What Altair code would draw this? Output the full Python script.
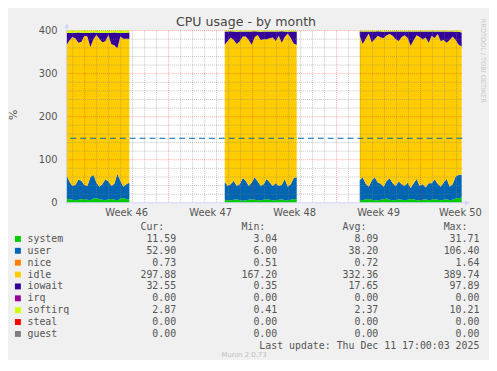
import altair as alt
import numpy as np
import pandas as pd

# ---------------- data ----------------
# time axis: days since the start of the 33-day window; three segments with data
SEG_START = [0.0, 13.2, 24.45]
SEG_COUNT = [22, 25, 35]
STEP = 0.25

system = [10, 8, 7, 6, 7, 8, 9, 7, 6, 10, 11, 8, 7, 6, 8, 9, 7, 6, 10, 11, 8, 9,
          7, 6, 6, 7, 8, 6, 5, 6, 7, 8, 7, 6, 6, 7, 9, 7, 6, 6, 7, 8, 6, 6, 7, 9, 8,
          7, 6, 8, 9, 7, 6, 6, 7, 8, 10, 7, 6, 6, 8, 7, 6, 7, 9, 8, 6, 6, 7, 8, 6, 7,
          9, 7, 6, 7, 8, 6, 7, 10, 11, 11.59]
user = [55.3, 41.3, 32.3, 35.3, 46.3, 43.3, 32.3, 32.3, 53.3, 55.3, 36.3, 29.3, 36.3,
        48.3, 41.3, 30.3, 37.3, 61.3, 41.3, 26.3, 35.3, 37.3,
        41.3, 33.3, 37.3, 44.3, 31.3, 37.3, 52.3, 45.3, 32.3, 39.3, 52.3, 43.3, 33.3,
        36.3, 46.3, 40.3, 33.3, 39.3, 32.3, 33.3, 49.3, 31.3, 36.3, 48.3, 51.3,
        45.3, 53.3, 36.3, 28.3, 44.3, 53.3, 41.3, 37.3, 29.3, 41.3, 49.3, 39.3, 33.3,
        41.3, 36.3, 33.3, 39.3, 25.3, 37.3, 49.3, 33.3, 36.3, 27.3, 39.3, 38.3, 45.3,
        37.3, 31.3, 40.3, 47.3, 31.3, 36.3, 51.3, 53.3, 52.90]
nice = [0.72, 0.70, 0.68, 0.71, 0.74, 0.70, 0.69, 0.73, 0.75, 0.71, 0.68, 0.70, 0.72,
        0.74, 0.69, 0.71, 0.73, 0.76, 0.70, 0.68, 0.71, 0.72,
        0.70, 0.69, 0.71, 0.73, 0.68, 0.70, 0.74, 0.72, 0.69, 0.71, 0.75, 0.72, 0.70,
        0.68, 0.73, 0.71, 0.69, 0.70, 0.72, 0.74, 0.71, 0.68, 0.70, 0.73, 0.72,
        0.71, 0.73, 0.70, 0.68, 0.72, 0.74, 0.71, 0.69, 0.70, 0.72, 0.75, 0.71, 0.69,
        0.70, 0.72, 0.68, 0.71, 0.70, 0.73, 0.74, 0.70, 0.69, 0.71, 0.72, 0.70, 0.73,
        0.71, 0.68, 0.70, 0.72, 0.69, 0.71, 0.74, 0.72, 0.73]
idle = [300, 327, 345, 340, 318, 322, 346, 346, 302, 314, 342, 343, 329, 320, 340,
        328, 321, 291, 334, 343, 337, 334,
        318, 336, 340, 326, 329, 331, 328, 334, 338, 319, 325, 340, 338, 336, 324,
        334, 344, 330, 348, 330, 329, 355, 339, 312, 307,
        335, 309, 336, 355, 321, 320, 340, 339, 345, 337, 335, 342, 340, 326, 341,
        349, 336, 330, 332, 333, 345, 336, 348, 326, 342, 328, 347, 338, 330, 316,
        340, 342, 316, 302, 297.88]
iowait = [29.0, 17.7, 9.5, 12.9, 23.3, 21.0, 6.6, 8.4, 33.1, 15.5, 4.9, 13.7, 22.2,
          20.0, 4.5, 26.8, 29.4, 36.1, 8.7, 13.9, 14.0, 14.3,
          30.8, 22.0, 14.2, 19.9, 28.6, 23.0, 12.1, 11.8, 19.7, 31.0, 13.2, 7.9, 19.5,
          17.8, 18.0, 16.1, 13.9, 21.7, 10.0, 26.2, 12.8, 4.6, 14.9, 28.0, 30.8,
          10.0, 28.8, 17.1, 4.9, 24.7, 18.0, 10.2, 13.9, 14.6, 8.8, 6.0, 10.1, 17.7,
          21.9, 13.0, 8.8, 14.6, 32.9, 20.1, 9.0, 12.7, 17.8, 14.0, 25.9, 10.1, 14.8,
          5.6, 21.9, 20.0, 25.7, 19.8, 12.0, 19.5, 30.3, 32.55]
softirq = [5.0, 5.3, 5.5, 5.1, 4.7, 5.0, 5.4, 5.6, 4.9, 4.5, 5.1, 5.3, 4.8, 5.0, 5.5,
           5.2, 4.6, 4.9, 5.3, 5.1, 5.0, 4.7,
           2.2, 2.0, 1.8, 2.1, 2.4, 2.0, 1.9, 2.2, 2.3, 2.0, 1.8, 2.1, 2.5, 2.2, 2.0,
           1.9, 2.1, 2.3, 2.0, 1.8, 2.2, 2.4, 2.1, 2.0, 2.2,
           2.0, 2.2, 1.9, 2.1, 2.3, 2.0, 1.8, 2.1, 2.4, 2.2, 2.0, 1.9, 2.3, 2.1, 2.0,
           2.2, 2.4, 2.1, 1.9, 2.0, 2.3, 2.2, 2.0, 2.1, 1.9, 2.2, 2.4, 2.1, 2.0, 2.3,
           2.2, 2.0, 2.5, 2.7, 2.87]

series_names = ["system", "user", "nice", "idle", "iowait", "irq", "softirq", "steal", "guest"]
series_colors = ["#00CC00", "#0066B3", "#FF8000", "#FFCC00", "#330099",
                 "#990099", "#CCFF00", "#FF0000", "#808080"]
cur_vals = [11.59, 52.90, 0.73, 297.88, 32.55, 0.00, 2.87, 0.00, 0.00]
min_vals = [3.04, 6.00, 0.51, 167.20, 0.35, 0.00, 0.41, 0.00, 0.00]
avg_vals = [8.09, 38.20, 0.72, 332.36, 17.65, 0.00, 2.37, 0.00, 0.00]
max_vals = [31.71, 106.40, 1.64, 389.74, 97.89, 0.00, 10.21, 0.00, 0.00]

week_labels = ["Week 46", "Week 47", "Week 48", "Week 49", "Week 50"]
week_label_pos = [5.02, 12.02, 19.02, 26.02, 32.85]
monday_pos = [1.52, 8.52, 15.52, 22.52, 29.52]
day_grid = [round(0.52 + k, 2) for k in range(33)]
y_ticks = [0, 100, 200, 300, 400]
y_minor = [v for v in range(20, 400, 20) if v % 100 != 0]
y_major = [100, 200, 300, 400]
warn_level = [150]

title_text = "CPU usage - by month"
y_title = "%"
watermark = "RRDTOOL / TOBI OETIKER"
last_update = "Last update: Thu Dec 11 17:00:03 2025"
version = "Munin 2.0.73"

# ---------------- build tables ----------------
t = np.concatenate([s + STEP * np.arange(n) for s, n in zip(SEG_START, SEG_COUNT)])
seg = np.repeat([1, 2, 3], SEG_COUNT)
stack_series = [("system", system), ("user", user), ("nice", nice),
                ("idle", idle), ("iowait", iowait), ("softirq", softirq)]
rows = []
for order, (name, vals) in enumerate(stack_series):
    assert len(vals) == len(t), name
    for ti, si, v in zip(t, seg, vals):
        rows.append(dict(t=round(float(ti), 3), seg=int(si), series=name,
                         value=float(v), ord=order))
df = pd.DataFrame(rows)

xscale = alt.Scale(domain=[0, 33], nice=False, zero=False)
yscale = alt.Scale(domain=[0, 400], nice=False, zero=False)
color_scale = alt.Scale(domain=series_names, range=series_colors)

one = pd.DataFrame({"a": [0]})
LABEL = dict(font="DejaVu Sans", fontSize=10, color="#555555")

# invisible frame that fixes the overall canvas extent
frame = alt.Chart(one).mark_rect(color="#F0F0F0", opacity=0).encode(
    x=alt.value(-58), x2=alt.value(427), y=alt.value(-21), y2=alt.value(331))
plot_bg = alt.Chart(one).mark_rect(color="#FFFFFF").encode(
    x=alt.value(0), x2=alt.value(400), y=alt.value(0), y2=alt.value(174))

area = alt.Chart(df).transform_stack(
    stack="value", groupby=["t"], as_=["y0", "y1"],
    sort=[alt.SortField("ord", order="ascending")], offset="zero"
).mark_area(interpolate="linear").encode(
    x=alt.X("t:Q", scale=xscale, axis=None),
    y=alt.Y("y0:Q", scale=yscale, axis=None),
    y2="y1:Q",
    color=alt.Color("series:N", scale=color_scale, legend=None),
    detail="seg:N",
)

minor_days = [d for d in day_grid if all(abs(d - m) > 0.01 for m in monday_pos)]
vgrid_minor = alt.Chart(pd.DataFrame({"gx": minor_days})).mark_rule(
    color="#808080", opacity=0.45, strokeDash=[1, 1], strokeWidth=1).encode(
    x=alt.X("gx:Q", scale=xscale, axis=None))
vgrid_major = alt.Chart(pd.DataFrame({"gx": monday_pos})).mark_rule(
    color="#FF0000", opacity=0.35, strokeDash=[1, 1], strokeWidth=1).encode(
    x=alt.X("gx:Q", scale=xscale, axis=None))
hgrid_minor = alt.Chart(pd.DataFrame({"gy": y_minor})).mark_rule(
    color="#808080", opacity=0.45, strokeDash=[1, 1], strokeWidth=1).encode(
    y=alt.Y("gy:Q", scale=yscale, axis=None))
hgrid_major = alt.Chart(pd.DataFrame({"gy": y_major})).mark_rule(
    color="#FF0000", opacity=0.35, strokeDash=[1, 1], strokeWidth=1).encode(
    y=alt.Y("gy:Q", scale=yscale, axis=None))
warn = alt.Chart(pd.DataFrame({"w": warn_level})).mark_rule(
    color="#0066B3", strokeDash=[6, 4], strokeWidth=1.2).encode(
    y=alt.Y("w:Q", scale=yscale, axis=None))

yaxis_line = alt.Chart(one).mark_rule(color="#CFD6F8", strokeWidth=1).encode(
    x=alt.value(0), y=alt.value(-3), y2=alt.value(174))
xaxis_line = alt.Chart(one).mark_rule(color="#CFD6F8", strokeWidth=1).encode(
    x=alt.value(0), x2=alt.value(403), y=alt.value(174))
arrow_up = alt.Chart(one).mark_point(shape="triangle-up", filled=True, size=28,
                                     opacity=1, color="#CFD6F8").encode(
    x=alt.value(0.5), y=alt.value(-5))
arrow_right = alt.Chart(one).mark_point(shape="triangle-right", filled=True, size=28,
                                        opacity=1, color="#CFD6F8").encode(
    x=alt.value(405), y=alt.value(174))

# axis labels drawn through the scales
ylab = alt.Chart(pd.DataFrame({"yt": y_ticks, "lab": [str(v) for v in y_ticks]})).mark_text(
    align="right", baseline="middle", **LABEL).encode(
    x=alt.value(-9), y=alt.Y("yt:Q", scale=yscale, axis=None), text="lab:N")
xlab = alt.Chart(pd.DataFrame({"wp": week_label_pos, "lab": week_labels})).mark_text(
    align="center", baseline="top", **LABEL).encode(
    x=alt.X("wp:Q", scale=xscale, axis=None), y=alt.value(179), text="lab:N")
ytitle = alt.Chart(pd.DataFrame({"txt": [y_title]})).mark_text(
    align="center", baseline="middle", angle=270, font="DejaVu Sans", fontSize=11,
    color="#555555").encode(x=alt.value(-53), y=alt.value(85), text="txt:N")

title = alt.Chart(pd.DataFrame({"txt": [title_text]})).mark_text(
    font="DejaVu Sans", fontSize=12.7, color="#444444", align="center",
    baseline="alphabetic").encode(x=alt.value(181.5), y=alt.value(-4.7), text="txt:N")
wm = alt.Chart(pd.DataFrame({"txt": [watermark]})).mark_text(
    font="DejaVu Sans", fontSize=6.6, color="#C8C8C8", align="center",
    baseline="middle", angle=90).encode(x=alt.value(421), y=alt.value(30.5), text="txt:N")

top = alt.layer(frame, plot_bg, area, vgrid_minor, hgrid_minor, vgrid_major, hgrid_major,
                warn, yaxis_line, xaxis_line, arrow_up, arrow_right,
                ylab, xlab, ytitle, title, wm
                ).properties(width=400, height=174)

# ---------------- legend table ----------------
NB = "\u00a0"
ZW = "\u200b"  # keeps leading padding from being trimmed
header = " " * 19 + "Cur:" + " " * 13 + "Min:" + " " * 13 + "Avg:" + " " * 13 + "Max:"
lines = [header]
for n, c, mn, av, mx in zip(series_names, cur_vals, min_vals, avg_vals, max_vals):
    lines.append(n.ljust(15) + f"{c:10.2f}" + f"{mn:17.2f}" + f"{av:17.2f}" + f"{mx:17.2f}")
lines.append(last_update.rjust(76))
lines = [ZW + s.replace(" ", NB) for s in lines]

leg_df = pd.DataFrame({"row": list(range(len(lines))), "txt": lines})
sq_df = pd.DataFrame({"row": list(range(1, 1 + len(series_names))), "series": series_names})
yrow = alt.Y("row:O", axis=None, scale=alt.Scale(type="point", padding=0))

leg_text = alt.Chart(leg_df).mark_text(
    font="DejaVu Sans Mono", fontSize=10, color="#555555", align="left",
    baseline="middle").encode(x=alt.value(-39.3), y=yrow, text="txt:N")
leg_sq = alt.Chart(sq_df).mark_square(size=36, opacity=1).encode(
    x=alt.value(-49), y=yrow,
    color=alt.Color("series:N", scale=color_scale, legend=None))
ver = alt.Chart(pd.DataFrame({"txt": [version]})).mark_text(
    font="DejaVu Sans", fontSize=7, color="#C0C0C0", align="center",
    baseline="middle").encode(x=alt.value(179.5), y=alt.value(129.5), text="txt:N")

bottom = alt.layer(leg_sq, leg_text, ver).properties(width=400, height=120)

chart = alt.vconcat(top, bottom, spacing=24.5, bounds="flush").configure(
    background="#F0F0F0", padding=0).configure_view(stroke=None)

chart.save("out.html", embed_options={"renderer": "svg", "actions": False})
